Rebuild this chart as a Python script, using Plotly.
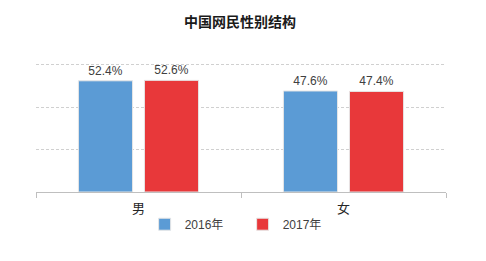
import plotly.graph_objects as go

categories = ["男", "女"]
series_names = ["2016年", "2017年"]
values_2016 = [52.4, 47.6]
values_2017 = [52.6, 47.4]
y_ticks = [0, 20, 40, 60]
colors = ["#5B9BD5", "#E8383A"]

FONT = "Liberation Sans, Arial, Noto Sans CJK SC, sans-serif"

fig = go.Figure()
for name, vals, col in zip(series_names, [values_2016, values_2017], colors):
    fig.add_trace(go.Bar(
        x=categories, y=vals, name=name,
        marker=dict(color=col, line=dict(color="#e6e6e6", width=1)),
        text=[f"{v:.1f}%" for v in vals],
        textposition="outside",
        textfont=dict(size=12, color="#404040", family=FONT),
        cliponaxis=False,
    ))

fig.update_layout(
    width=486, height=261,
    margin=dict(l=36, r=40, t=60, b=69),
    paper_bgcolor="white", plot_bgcolor="white",
    barmode="group", bargap=0.356, bargroupgap=0.18,
    font=dict(family=FONT, color="#404040"),
    title=dict(text="<b>中国网民性别结构</b>", x=0.494, xanchor="center",
               y=1 - 22 / 261, yanchor="middle",
               font=dict(size=14, color="#1a1a1a", family="Noto Sans CJK SC, sans-serif")),
    showlegend=True,
    legend=dict(orientation="h", x=0.504, xanchor="center", y=-0.244, yanchor="middle",
                bgcolor="rgba(0,0,0,0)",
                font=dict(size=12, color="#404040", family=FONT),
                entrywidth=53, entrywidthmode="pixels", itemwidth=30,
                traceorder="normal"),
    xaxis=dict(showline=True, linecolor="#bfbfbf", linewidth=1,
               ticks="outside", tickson="boundaries", ticklen=5, tickcolor="#bfbfbf",
               ticklabelstandoff=4,
               tickfont=dict(size=13, color="#262626", family="Noto Sans CJK SC, sans-serif"),
               showgrid=False),
    yaxis=dict(range=[0, 62.2], tickvals=y_ticks, showticklabels=False,
               showgrid=True, gridcolor="#d0d0d0", griddash="3px,2px", gridwidth=1,
               zeroline=False, showline=False),
)

fig.write_html("out.html")
